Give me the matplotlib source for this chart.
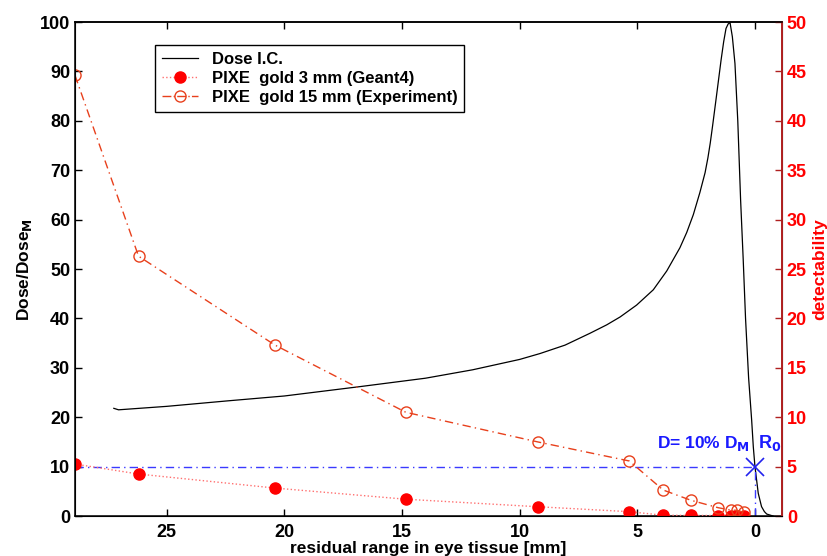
import matplotlib
matplotlib.use('Agg')
import matplotlib.pyplot as plt
from matplotlib.lines import Line2D

plt.rcParams['font.family'] = ['Liberation Sans', 'DejaVu Sans']
plt.rcParams['font.weight'] = 'bold'

# dose curve (left axis, % of maximum)
dose_x = [27.25, 27.05, 25, 22.44, 20, 16.78, 14, 12, 10, 9.13, 8.07, 7.01, 6.3, 5.73, 5.03,
          4.32, 3.75, 3.19, 2.9, 2.62, 2.34, 2.12, 2.0, 1.9, 1.8, 1.65, 1.44, 1.33, 1.23, 1.14,
          1.06, 0.96, 0.85, 0.73, 0.61, 0.5, 0.4, 0.27, 0.14, 0.07, 0.0, -0.14, -0.28, -0.4,
          -0.5, -0.77]
dose_y = [21.8, 21.5, 22.2, 23.3, 24.3, 26.2, 27.9, 29.6, 31.7, 32.9, 34.6, 37.0, 38.7, 40.3,
          42.7, 45.8, 49.6, 54.3, 57.4, 61.0, 65.5, 69.5, 72.5, 75.5, 79.0, 84.5, 92.3, 96.0,
          98.7, 99.6, 99.9, 97.0, 91.6, 80.0, 64.0, 52.0, 40.0, 28.0, 19.4, 14.0, 10.0, 4.6,
          1.9, 0.9, 0.4, 0.0]

# PIXE gold 3 mm (Geant4), right axis
g4_x = [28.9, 26.2, 20.4, 14.84, 9.23, 5.34, 3.9, 2.73, 1.56, 1.03, 0.78, 0.47]
g4_y = [5.26, 4.25, 2.83, 1.7, 0.94, 0.44, 0.08, 0.06, 0.05, 0.05, 0.04, 0.04]

# PIXE gold 15 mm (Experiment), right axis
exp_x = [28.9, 26.2, 20.4, 14.84, 9.23, 5.34, 3.9, 2.73, 1.56, 1.03, 0.78, 0.47]
exp_y = [44.6, 26.3, 17.3, 10.5, 7.5, 5.57, 2.63, 1.6, 0.84, 0.6, 0.58, 0.38]

x_ticks = [25, 20, 15, 10, 5, 0]
d10 = 10  # 10% of dose maximum

fig = plt.figure(figsize=(8.27, 5.56), dpi=100)
ax1 = fig.add_axes([0.0907, 0.0719, 0.8549, 0.8885])
ax2 = ax1.twinx()

ax1.plot(dose_x, dose_y, '-', color='black', lw=0.9)
ax1.plot([28.9, 0], [d10, d10], color='#3a3aff', lw=1, linestyle='-.', dashes=(6, 3, 1, 3))
ax1.plot([0, 0], [0, d10], color='#3a3aff', lw=1, linestyle='-.', dashes=(6, 3, 1, 3))
ax1.plot([0], [d10], 'x', color='#2222ee', markersize=13, mew=1.2)
ax1.text(4.15, 13.8, 'D= 10% D$_\\mathbf{M}$', color='#1a1aff', fontsize=12.5, fontweight='bold')
ax1.text(-0.15, 13.8, 'R$_\\mathbf{0}$', color='#1a1aff', fontsize=13, fontweight='bold')

ax2.plot(g4_x, g4_y, ':', color='#ff7070', lw=1, marker='o', markersize=8,
         markerfacecolor='red', markeredgecolor='red')
ax2.plot(exp_x, exp_y, color='#e8401c', lw=1, linestyle='-.', dashes=(6, 3, 1, 3),
         marker='o', markersize=8, markerfacecolor='none', markeredgecolor='#e8401c', mew=1)

ax1.set_xlim(28.9, -1.15)
ax1.set_ylim(0, 100)
ax2.set_ylim(0, 50)
ax1.set_xticks(x_ticks)
ax1.set_yticks(range(0, 101, 10))
ax2.set_yticks(range(0, 51, 5))

ax1.tick_params(axis='both', direction='in', length=5, width=1, labelsize=13, top=True)
ax1.tick_params(axis='x', pad=6)
ax2.tick_params(axis='y', direction='in', length=5, width=1, labelsize=13,
                colors='#b02020', labelcolor='red')
for sp in ['left', 'bottom', 'top']:
    ax1.spines[sp].set_linewidth(1.1)
ax2.spines['right'].set_color('#b02020')
ax2.spines['right'].set_linewidth(1.4)
ax2.spines['top'].set_linewidth(1.1)

ax1.set_xlabel('residual range in eye tissue [mm]', fontsize=12.5, fontweight='bold', labelpad=0)
ax1.set_ylabel('Dose/Dose$_\\mathbf{M}$', fontsize=12.5, fontweight='bold', labelpad=4)
ax2.set_ylabel('detectability', fontsize=12.5, fontweight='bold', color='red', labelpad=4)

handles = [
    Line2D([], [], color='black', lw=0.9),
    Line2D([], [], color='#ff7070', lw=1, linestyle=':', marker='o', markersize=8,
           markerfacecolor='red', markeredgecolor='red'),
    Line2D([], [], color='#e8401c', lw=1, linestyle='-.', marker='o', markersize=8,
           markerfacecolor='none', markeredgecolor='#e8401c'),
]
labels = ['Dose I.C.', 'PIXE  gold 3 mm (Geant4)', 'PIXE  gold 15 mm (Experiment)']
leg = ax2.legend(handles, labels, loc='upper left', bbox_to_anchor=(0.113, 0.953),
                 borderaxespad=0, fancybox=False, framealpha=1, edgecolor='black',
                 prop={'size': 12, 'weight': 'bold'}, handlelength=2.2,
                 labelspacing=0.25, borderpad=0.4)
leg.get_frame().set_linewidth(1)

fig.savefig('out.png', dpi=100)
